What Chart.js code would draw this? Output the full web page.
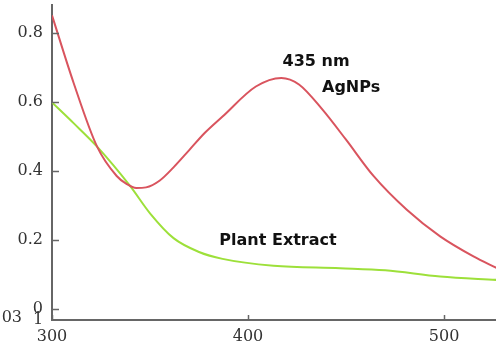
<!DOCTYPE html>
<html>
<head>
<meta charset="UTF-8">
<script src="https://cdn.jsdelivr.net/npm/chart.js"></script>
<title>uv-vis</title>
<style>
    body{ margin:0; background:#fff; }
    #wrap{ width:496px; height:347px; position:relative; }
</style>
</head>
<body>
<div id="wrap"><canvas id="mychart"></canvas></div>
<script>
    // wavelength (nm) / absorbance
    let agWave   = [300, 311, 323, 333, 338, 343, 348, 355, 362, 370, 378, 387, 404, 417, 426, 438, 450, 464, 481, 498, 515, 527];
    let agAbs    = [0.85, 0.655, 0.47, 0.385, 0.362, 0.35, 0.352, 0.372, 0.41, 0.46, 0.51, 0.557, 0.644, 0.669, 0.65, 0.577, 0.49, 0.385, 0.287, 0.21, 0.152, 0.118];
    let plantWave = [300, 311, 323, 340, 350, 362, 375, 387, 413, 447, 470, 498, 527];
    let plantAbs  = [0.598, 0.538, 0.47, 0.355, 0.277, 0.205, 0.165, 0.145, 0.125, 0.118, 0.112, 0.094, 0.084];

    let xTicks = [300, 400, 500];
    let yTicks = [0, 0.2, 0.4, 0.6, 0.8];

    // text labels on the plot: [text, wavelength, absorbance]
    let notes = [
        ["435 nm", 434.7, 0.714],
        ["AgNPs", 452.6, 0.641],
        ["Plant Extract", 415.3, 0.196],
    ];

    let toPts = (xs, ys) => xs.map((x, i) => ({x: x, y: ys[i]}));

    // tick marks pointing into the plot + annotations
    const extras = {
        id: "extras",
        afterDraw(chart){
            const c = chart.ctx;
            const xs = chart.scales.x, ys = chart.scales.y;
            const a = chart.chartArea;
            c.save();
            c.strokeStyle = "#666";
            c.lineWidth = 1.5;
            yTicks.forEach(v=>{
                let py = Math.round(ys.getPixelForValue(v)) + 0.5;
                c.beginPath(); c.moveTo(a.left, py); c.lineTo(a.left + 7, py); c.stroke();
            });
            xTicks.forEach(v=>{
                let px = Math.round(xs.getPixelForValue(v)) + 0.5;
                c.beginPath(); c.moveTo(px, a.bottom); c.lineTo(px, a.bottom - 5); c.stroke();
            });
            c.fillStyle = "#111";
            c.font = "bold 16px 'DejaVu Sans'";
            c.textAlign = "center";
            c.textBaseline = "middle";
            notes.forEach(n=>{
                c.fillText(n[0], xs.getPixelForValue(n[1]), ys.getPixelForValue(n[2]));
            });
            // stray clipped label in the bottom-left corner
            c.fillStyle = "#333";
            c.font = "16px 'DejaVu Serif'";
            c.textAlign = "right";
            c.fillText("03", 22, 318);
            c.textAlign = "center";
            c.fillText("1", 38, 320);
            c.restore();
        }
    };

    let ctx = document.querySelector("#mychart");
    let chart = new Chart(ctx, {
        type: "line",
        data: {
            datasets: [
                {
                    label: "AgNPs",
                    data: toPts(agWave, agAbs),
                    borderColor: "#d9545e",
                    borderWidth: 2,
                    pointRadius: 0,
                    cubicInterpolationMode: "monotone",
                },
                {
                    label: "Plant Extract",
                    data: toPts(plantWave, plantAbs),
                    borderColor: "#9de03a",
                    borderWidth: 2,
                    pointRadius: 0,
                    cubicInterpolationMode: "monotone",
                },
            ]
        },
        options: {
            responsive: true,
            maintainAspectRatio: false,
            animation: false,
            layout: { padding: { top: 5, right: 0, left: 0, bottom: 0 } },
            plugins: {
                legend: { display: false },
                tooltip: { enabled: false },
            },
            scales: {
                x: {
                    type: "linear",
                    min: 300,
                    max: 526.5,
                    afterBuildTicks: s => { s.ticks = xTicks.map(v => ({value: v})); },
                    afterFit: s => { s.height = 27; s.paddingLeft = 0; s.paddingRight = 0; },
                    grid: { display: false, drawTicks: false },
                    border: { color: "#666", width: 2 },
                    ticks: {
                        padding: 7,
                        color: "#333",
                        font: { family: "DejaVu Serif", size: 16 },
                    },
                },
                y: {
                    min: -0.032,
                    max: 0.88,
                    afterBuildTicks: s => { s.ticks = yTicks.map(v => ({value: v})); },
                    afterFit: s => { s.width = 52; s.paddingTop = 0; s.paddingBottom = 0; },
                    grid: { display: false, drawTicks: false },
                    border: { color: "#666", width: 2 },
                    ticks: {
                        padding: 9,
                        color: "#333",
                        font: { family: "DejaVu Serif", size: 16 },
                    },
                },
            }
        },
        plugins: [extras],
    });
</script>
</body>
</html>
